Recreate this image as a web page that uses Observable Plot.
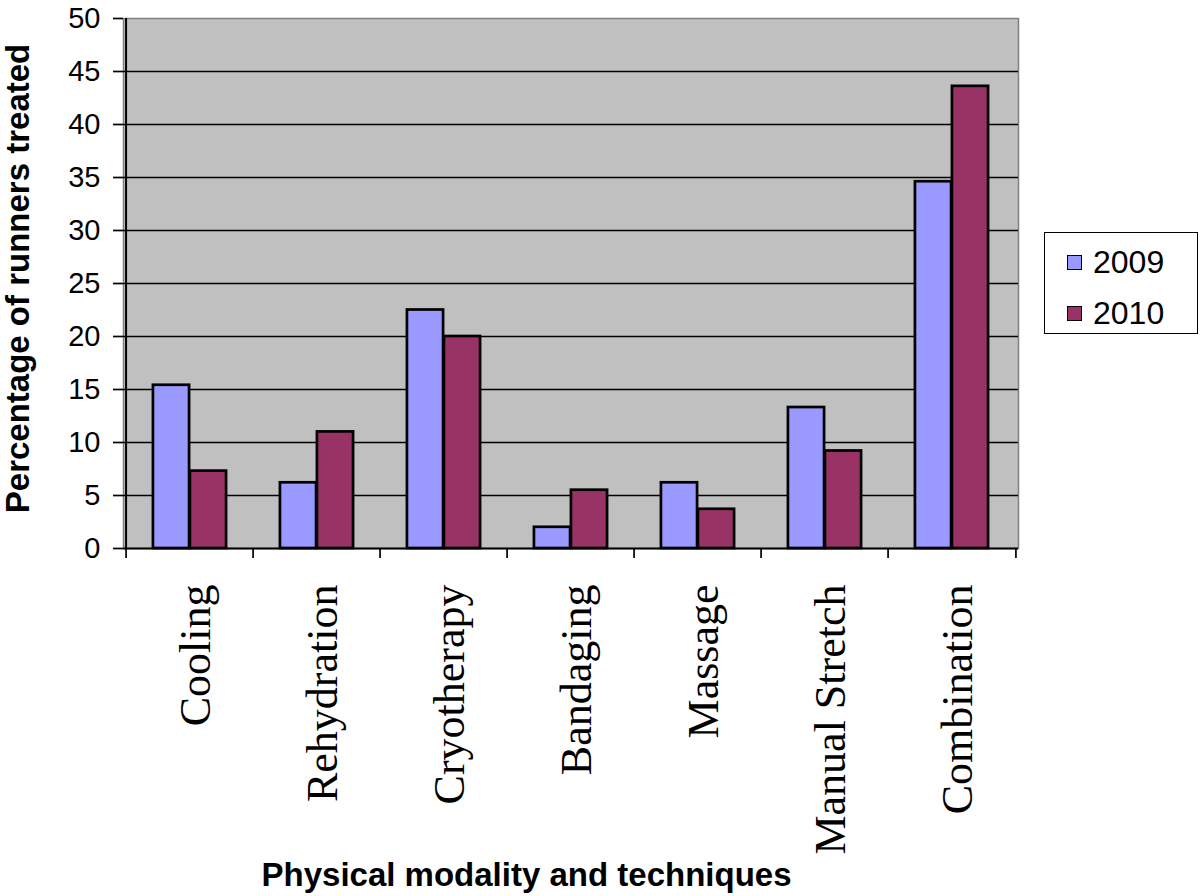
<!DOCTYPE html>
<html>
<head>
<meta charset="utf-8">
<script src="https://cdn.jsdelivr.net/npm/d3@7"></script>
<script src="https://cdn.jsdelivr.net/npm/@observablehq/plot@0.6"></script>
<style>
  html, body { margin: 0; padding: 0; background: white; }
  #wrap { position: relative; width: 1200px; height: 896px; }
  #legend {
    position: absolute; left: 1044px; top: 232px; width: 152px; height: 100px;
    border: 1.5px solid black; background: white;
    font-family: "Liberation Sans", Arial, sans-serif; font-size: 32px; color: black;
  }
  .item { position: absolute; left: 22px; display: flex; align-items: center; }
  .sw { width: 13px; height: 13px; border: 1.5px solid black; margin-right: 11px; }
</style>
</head>
<body>
<div id="wrap"><div id="chart"></div><div id="legend"></div></div>
<script>
const categories = ["Cooling", "Rehydration", "Cryotherapy", "Bandaging", "Massage", "Manual Stretch", "Combination"];
const values2009 = [15.4, 6.2, 22.5, 2.0, 6.2, 13.3, 34.6];
const values2010 = [7.3, 11.0, 20.0, 5.5, 3.7, 9.2, 43.6];
const years = ["2009", "2010"];
const yearColors = ["#9999ff", "#993366"];
const yTicks = [0, 5, 10, 15, 20, 25, 30, 35, 40, 45, 50];
const xTitle = "Physical modality and techniques";
const yTitle = "Percentage of runners treated";

const W = 1200, H = 896;
const mL = 123, mR = 182, mT = 18, mB = 348;
const bw = (W - mL - mR) / categories.length;
const barW = 37;

const rows = categories.flatMap((c, i) => [
  {category: c, year: years[0], value: values2009[i]},
  {category: c, year: years[1], value: values2010[i]}
]);

const sans = "Liberation Sans, Arial, sans-serif";
const serif = "Liberation Serif, Times New Roman, serif";

const chart = Plot.plot({
  width: W, height: H,
  marginLeft: mL, marginRight: mR, marginTop: mT, marginBottom: mB,
  x: {domain: categories, padding: 0, axis: null},
  y: {domain: [0, 50], axis: null},
  style: {fontFamily: sans, background: "white", color: "black"},
  marks: [
    Plot.frame({fill: "#c0c0c0", stroke: "#808080", strokeWidth: 1.5}),
    Plot.ruleY(yTicks.filter(t => t > 0 && t < 50), {y: d => d, stroke: "black", strokeWidth: 1.7}),
    Plot.barY(rows.filter(d => d.year === years[0]), {
      x: "category", y: "value", fill: yearColors[0], stroke: "black", strokeWidth: 2.7,
      insetLeft: bw / 2 - barW, insetRight: bw / 2
    }),
    Plot.barY(rows.filter(d => d.year === years[1]), {
      x: "category", y: "value", fill: yearColors[1], stroke: "black", strokeWidth: 2.7,
      insetLeft: bw / 2, insetRight: bw / 2 - barW
    }),
    Plot.ruleY([0], {stroke: "black", strokeWidth: 2}),
    Plot.ruleX([categories[0]], {x: d => d, dx: -bw / 2, stroke: "black", strokeWidth: 2}),
    Plot.ruleX(categories, {x: d => d, dx: -bw / 2, y1: 0, y2: 0, insetBottom: -10, stroke: "black", strokeWidth: 1.7}),
    Plot.ruleX([categories[categories.length - 1]], {x: d => d, dx: bw / 2, y1: 0, y2: 0, insetBottom: -10, stroke: "black", strokeWidth: 1.7}),
    Plot.axisY({ticks: yTicks, tickSize: 10, tickPadding: 13, fontSize: 29, strokeWidth: 1.7, label: null, tickFormat: d => String(d)}),
    Plot.text(categories, {
      x: d => d, text: d => d, frameAnchor: "bottom", rotate: -90,
      textAnchor: "end", lineAnchor: "middle", dy: 36, dx: 6,
      fontSize: 44, fontFamily: serif, fill: "black"
    }),
    Plot.text([yTitle], {
      text: d => d, frameAnchor: "left", rotate: -90, textAnchor: "middle", lineAnchor: "middle",
      dx: -105, dy: -5, fontSize: 33, fontWeight: "bold", fill: "black"
    }),
    Plot.text([xTitle], {
      text: d => d, frameAnchor: "bottom", textAnchor: "middle", lineAnchor: "middle",
      dy: 327, dx: 526 - (mL + (W - mL - mR) / 2), fontSize: 33, fontWeight: "bold", fill: "black"
    })
  ]
});
document.getElementById("chart").appendChild(chart);

const legend = document.getElementById("legend");
years.forEach((y, i) => {
  const item = document.createElement("div");
  item.className = "item";
  item.style.top = (i === 0 ? 11 : 62) + "px";
  const sw = document.createElement("div");
  sw.className = "sw";
  sw.style.background = yearColors[i];
  const label = document.createElement("span");
  label.textContent = y;
  item.appendChild(sw);
  item.appendChild(label);
  legend.appendChild(item);
});
</script>
</body>
</html>
